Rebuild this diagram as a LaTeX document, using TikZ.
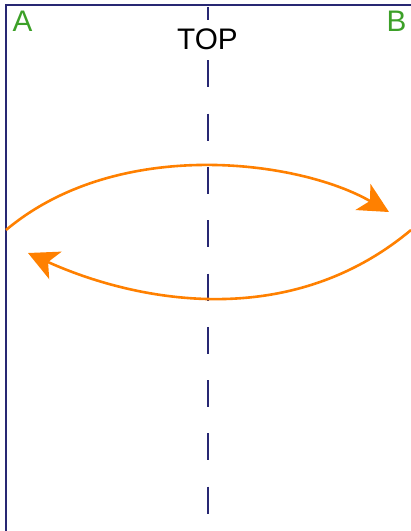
\documentclass[tikz,border=0pt]{standalone}
\usepackage{fontspec}
\setmainfont{Liberation Sans}
\usepackage{xcolor}
\usetikzlibrary{arrows.meta}
\definecolor{frameblue}{RGB}{40, 40, 115}
\definecolor{turnorange}{RGB}{255, 128, 0}
\definecolor{cornergreen}{RGB}{60, 160, 40}

\begin{document}
\begin{tikzpicture}[x=1pt, y=-1pt,
			frame/.style={draw=frameblue, line width=1.8pt},
			axis/.style={draw=frameblue, line width=2pt, dash pattern=on 27pt off 26.3pt},
			turn/.style={draw=turnorange, line width=2.6pt, -{Stealth[length=30pt, width=30pt, inset=8pt]}},
			corner/.style={text=cornergreen, inner sep=0pt, font=\fontsize{29.7}{34}\selectfont},
			label/.style={fill=white, inner sep=0pt, minimum height=40pt, font=\fontsize{29.7}{34}\selectfont}
			]
			\useasboundingbox (0,0) rectangle (411,531);
			
			% Frame
			\draw[frame] (6,540) |- (420,5);
			
			% Centre line
			\coordinate (axtop) at (207.5,7);
			\coordinate (axbot) at (207.5,540);
			\draw[axis] (axtop) -- (axbot);
			\node[label] (top) at (207.5,39.5) {TOP};
			
			% Corners
			\node[corner] (a) at (22.5,21.5) {A};
			\node[corner] (b) at (396.5,21.5) {B};
			
			% Rotation
			\coordinate (upL) at (6,230);
			\coordinate (upR) at (389,212);
			\coordinate (loR) at (411,230);
			\coordinate (loL) at (28,253);
			\draw[turn] (upL) .. controls (118,136) and (299,160) .. (upR);
			\draw[turn] (loR) .. controls (287,333.7) and (132,300) .. (loL);
		\end{tikzpicture}
\end{document}
